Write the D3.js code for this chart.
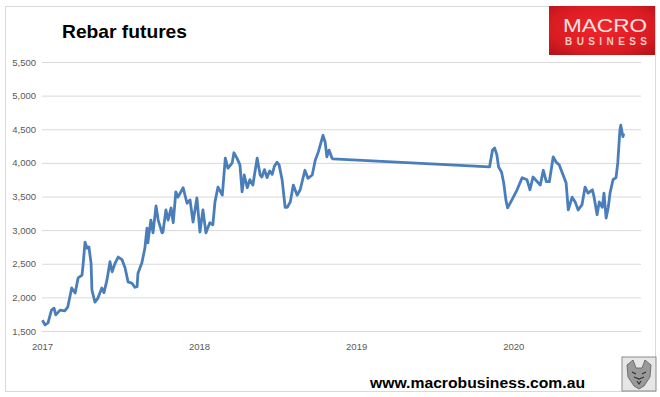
<!DOCTYPE html>
<html>
<head>
<meta charset="utf-8">
<script src="https://cdn.jsdelivr.net/npm/d3@7"></script>
<style>
  body { margin: 0; background: #fff; }
  svg { display: block; font-family: "Liberation Sans", Arial, sans-serif; }
</style>
</head>
<body>
<div id="chart"></div>
<script>
// rebar futures (CNY/t)
const dates = [
  "2017-01-02", "2017-01-08", "2017-01-15", "2017-01-23", "2017-01-29", "2017-02-02", "2017-02-12", "2017-02-23",
  "2017-03-02", "2017-03-11", "2017-03-19", "2017-03-26", "2017-04-04", "2017-04-06", "2017-04-11", "2017-04-16",
  "2017-04-20", "2017-04-25", "2017-04-27", "2017-05-04", "2017-05-11", "2017-05-20", "2017-05-25", "2017-06-01",
  "2017-06-08", "2017-06-13", "2017-06-20", "2017-06-27", "2017-07-06", "2017-07-13", "2017-07-20", "2017-07-29",
  "2017-08-05", "2017-08-10", "2017-08-12", "2017-08-21", "2017-08-28", "2017-09-02", "2017-09-04", "2017-09-11",
  "2017-09-16", "2017-09-23", "2017-09-28", "2017-10-07", "2017-10-09", "2017-10-16", "2017-10-21", "2017-10-28",
  "2017-11-02", "2017-11-08", "2017-11-13", "2017-11-25", "2017-12-04", "2017-12-11", "2017-12-18", "2017-12-27",
  "2018-01-03", "2018-01-10", "2018-01-17", "2018-01-26", "2018-02-02", "2018-02-07", "2018-02-14", "2018-02-24",
  "2018-03-03", "2018-03-09", "2018-03-19", "2018-03-23", "2018-03-30", "2018-04-06", "2018-04-11", "2018-04-16",
  "2018-04-23", "2018-04-29", "2018-05-06", "2018-05-16", "2018-05-23", "2018-05-27", "2018-06-02", "2018-06-08",
  "2018-06-14", "2018-06-20", "2018-06-25",
  "2018-07-01", "2018-07-06", "2018-07-13", "2018-07-20", "2018-07-25", "2018-08-01", "2018-08-08", "2018-08-17",
  "2018-08-24", "2018-09-04", "2018-09-11", "2018-09-21", "2018-09-28", "2018-10-05", "2018-10-16", "2018-10-21",
  "2018-10-25", "2018-10-30", "2018-11-06", "2018-11-08",
  "2019-11-07", "2019-11-14", "2019-11-19", "2019-11-24", "2019-11-28", "2019-12-05", "2019-12-10", "2019-12-15",
  "2019-12-19", "2019-12-29", "2020-01-10", "2020-01-22", "2020-02-02", "2020-02-09", "2020-02-16", "2020-02-26",
  "2020-03-04", "2020-03-11", "2020-03-18", "2020-03-25", "2020-04-03", "2020-04-10", "2020-04-17", "2020-04-26",
  "2020-05-03", "2020-05-08", "2020-05-17", "2020-05-24", "2020-05-31", "2020-06-09", "2020-06-16", "2020-06-23",
  "2020-07-03", "2020-07-07", "2020-07-14", "2020-07-19", "2020-07-26", "2020-07-30", "2020-08-04", "2020-08-09",
  "2020-08-13", "2020-08-20", "2020-08-27", "2020-08-31", "2020-09-05", "2020-09-07", "2020-09-12", "2020-09-14"
];
const prices = [
  1660, 1590, 1620, 1810, 1840, 1740, 1810, 1800,
  1860, 2140, 2065, 2290, 2330, 2450, 2820, 2730,
  2750, 2510, 2110, 1930, 1990, 2140, 2070, 2260,
  2530, 2380, 2510, 2600, 2560, 2440, 2230, 2210,
  2150, 2160, 2360, 2510, 2730, 3030, 2810, 3150,
  2960, 3360, 3150, 2960, 2970, 3300, 3150, 3330,
  3110, 3570, 3490, 3630, 3400, 3450, 3120, 3480,
  2970, 3300, 2960, 3110, 3080, 3420, 3640, 3520,
  4070, 3920, 4000, 4150, 4070, 3970, 3570, 3820,
  3630, 3750, 3670, 4070, 3820, 3790, 3900, 3780,
  3880, 3830, 3950,
  4010, 3970, 3750, 3340, 3340, 3420, 3670, 3520,
  3600, 3890, 3770, 3820, 4040, 4160, 4410, 4310,
  4090, 4190, 4070, 4060,
  3940, 4190, 4220, 4120, 3940, 3860, 3700, 3450,
  3330, 3450, 3600, 3780, 3750, 3600, 3790, 3720,
  3670, 3890, 3720, 3720, 4090, 4010, 3970, 3820,
  3700, 3300, 3490, 3420, 3300, 3380, 3640, 3550,
  3600, 3490, 3230, 3420, 3340, 3550, 3180, 3340,
  3550, 3750, 3780, 4000, 4490, 4560, 4390, 4440
];
const yTicks = [1500, 2000, 2500, 3000, 3500, 4000, 4500, 5000, 5500];
const yearTicks = ["2017-01-01", "2018-01-01", "2019-01-01", "2020-01-01"];

const width = 660;
const height = 397;
const parse = d3.timeParse("%Y-%m-%d");
const series = dates.map((d, i) => ({ date: parse(d), value: prices[i] }));

const svg = d3.select("#chart").append("svg")
  .attr("width", width)
  .attr("height", height);

// outer frame
svg.append("rect")
  .attr("x", 5.5).attr("y", 6.5)
  .attr("width", 650).attr("height", 385)
  .attr("fill", "#fff")
  .attr("stroke", "#d9d9d9");

const x = d3.scaleTime()
  .domain([parse("2017-01-01"), parse("2020-10-24")])
  .range([42, 641]);
const y = d3.scaleLinear()
  .domain([1500, 5500])
  .range([331, 62]);

const yAxis = svg.append("g")
  .attr("transform", "translate(42,0)")
  .call(d3.axisLeft(y).tickValues(yTicks).tickFormat(d3.format(",")).tickSize(-(641 - 42)).tickPadding(6));
yAxis.select(".domain").remove();
yAxis.selectAll(".tick line").attr("stroke", "#d9d9d9");
yAxis.selectAll(".tick text")
  .attr("fill", "#595959")
  .attr("font-size", "9.5px");

const xAxis = svg.append("g")
  .attr("transform", "translate(0,331)")
  .call(d3.axisBottom(x).tickValues(yearTicks.map(parse)).tickFormat(d3.timeFormat("%Y")).tickSize(0).tickPadding(12));
xAxis.select(".domain").remove();
xAxis.selectAll(".tick text")
  .attr("fill", "#595959")
  .attr("font-size", "9.5px");

const line = d3.line()
  .x((d) => x(d.date))
  .y((d) => y(d.value));

svg.append("path")
  .datum(series)
  .attr("fill", "none")
  .attr("stroke", "#4a7ebb")
  .attr("stroke-width", 2.8)
  .attr("stroke-linejoin", "round")
  .attr("d", line);

// title
svg.append("text")
  .attr("x", 62).attr("y", 38)
  .attr("font-size", "19px")
  .attr("font-weight", "bold")
  .attr("fill", "#000")
  .attr("textLength", 125)
  .attr("lengthAdjust", "spacingAndGlyphs")
  .text("Rebar futures");

// MACRO BUSINESS badge
const defs = svg.append("defs");
const grad = defs.append("radialGradient").attr("id", "mbRed").attr("cx", "50%").attr("cy", "45%").attr("r", "70%");
grad.append("stop").attr("offset", "0%").attr("stop-color", "#f0262b");
grad.append("stop").attr("offset", "70%").attr("stop-color", "#d91c22");
grad.append("stop").attr("offset", "100%").attr("stop-color", "#b5141a");

const badge = svg.append("g");
badge.append("rect")
  .attr("x", 549).attr("y", 6)
  .attr("width", 106).attr("height", 49)
  .attr("fill", "url(#mbRed)");
badge.append("text")
  .attr("x", 605).attr("y", 32)
  .attr("text-anchor", "middle")
  .attr("font-size", "19px")
  .attr("fill", "#fbe3e3")
  .attr("textLength", 84)
  .attr("lengthAdjust", "spacingAndGlyphs")
  .text("MACRO");
badge.append("text")
  .attr("x", 606).attr("y", 45)
  .attr("text-anchor", "middle")
  .attr("font-size", "10px")
  .attr("font-weight", "bold")
  .attr("fill", "#f6c9c9")
  .attr("textLength", 82)
  .attr("lengthAdjust", "spacing")
  .text("BUSINESS");

// footer url
svg.append("text")
  .attr("x", 370).attr("y", 388)
  .attr("font-size", "15px")
  .attr("font-weight", "bold")
  .attr("fill", "#000")
  .attr("textLength", 215)
  .attr("lengthAdjust", "spacingAndGlyphs")
  .text("www.macrobusiness.com.au");

// little wolf picture in the corner
const wolf = svg.append("g").attr("transform", "translate(622,357)");
wolf.append("rect")
  .attr("width", 34).attr("height", 34)
  .attr("fill", "#e6e6e6")
  .attr("stroke", "#8c8c8c");
wolf.append("path")
  .attr("d", "M5,8 L11,3 L14,11 L20,11 L23,3 L29,8 L28,20 L22,29 L17,32 L12,29 L6,20 Z")
  .attr("fill", "#9a9a9a")
  .attr("stroke", "#5a5a5a")
  .attr("stroke-width", 0.8);
wolf.append("path")
  .attr("d", "M10,15 L14,17 M24,15 L20,17 M15,24 L17,27 L19,24 M12,20 L17,22 L22,20")
  .attr("fill", "none")
  .attr("stroke", "#333")
  .attr("stroke-width", 1.2);
</script>
</body>
</html>
